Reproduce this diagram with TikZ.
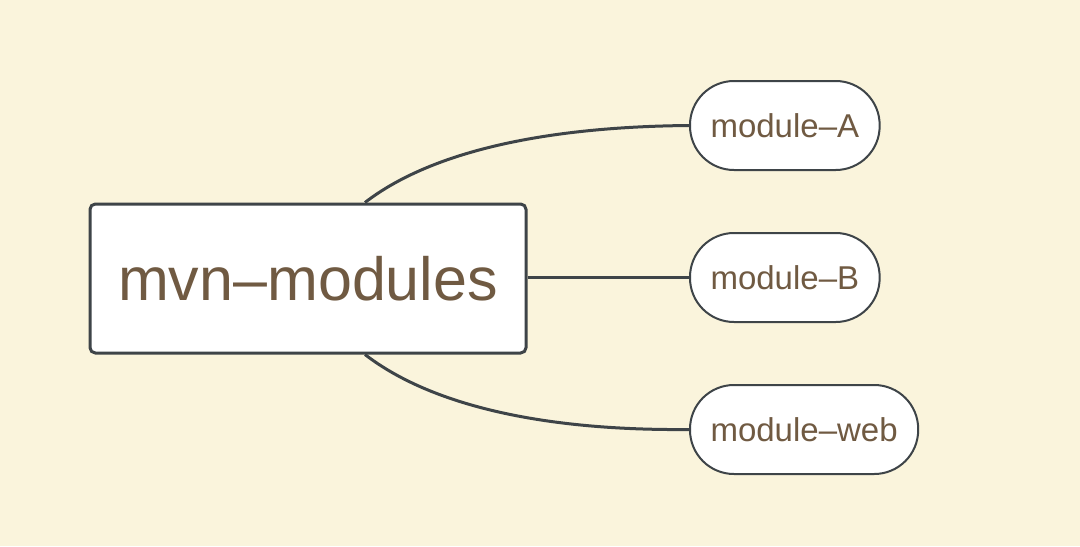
\documentclass[tikz,border=0pt]{standalone}
\usepackage{fontspec}
\setmainfont{Liberation Sans}
\usetikzlibrary{calc,backgrounds}

\definecolor{bgcream}{RGB}{250,244,220}
\definecolor{txtbrown}{RGB}{112,90,66}
\definecolor{linegray}{RGB}{62,68,72}

\tikzset{every picture/.style={line width=0.75pt}}
\tikzset{
  rootbox/.style={draw=linegray, line width=2.25pt, fill=white, rounded corners=4pt,
    minimum width=327pt, minimum height=111.75pt, text=txtbrown,
    font=\fontsize{45.75}{50}\selectfont},
  leafpill/.style={draw=linegray, line width=1.5pt, fill=white, rounded corners=33pt,
    minimum height=66.75pt, inner xsep=15.4pt, text=txtbrown,
    font=\fontsize{24.75}{28}\selectfont, anchor=west},
  branch/.style={draw=linegray, line width=2.25pt}
}

\begin{document}
\begin{tikzpicture}[x=0.75pt,y=0.75pt,yscale=-1,xscale=1]
%set diagram to 1080 x 546
\useasboundingbox (0,0) rectangle (1080,546);

%Root box
\node[rootbox] (root) at (308,278.5) {mvn–modules};

%Leaf pills
\node[leafpill] (modA) at (689,125.5) {module–A};
\node[leafpill] (modB) at (689,277.5) {module–B};
\node[leafpill] (modWeb) at (689,429.5) {module–web};

%Branches, behind the boxes
\begin{scope}[on background layer]
\fill[bgcream] (0,0) rectangle (1080,546);
\draw[branch] ($(root.north)+(57,0)$) .. controls (420,160) and (520,127) .. (modA.west);
\draw[branch] (root.east |- modB.west) -- (modB.west);
\draw[branch] ($(root.south)+(57,0)$) .. controls (420,397) and (520,431) .. (modWeb.west);
\end{scope}

\end{tikzpicture}
\end{document}
